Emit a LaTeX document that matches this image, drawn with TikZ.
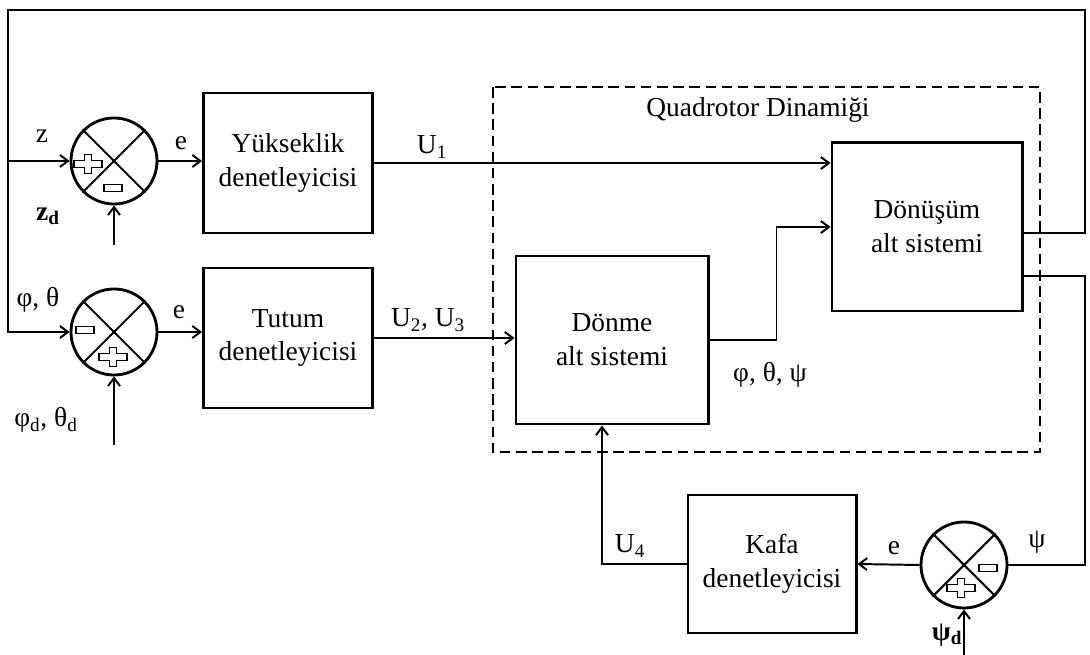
\documentclass[tikz,border=0pt]{standalone}
\usepackage{fontspec}
\setmainfont{Liberation Serif}
\usetikzlibrary{arrows.meta}

\begin{document}
\begin{tikzpicture}[x=0.025cm, y=-0.025cm, line width=1.4pt,
    every node/.style={font=\fontsize{19.5}{24}\selectfont},
    block/.style={draw, line width=2.1pt, align=center, inner sep=0pt},
    summer/.style={draw, circle, line width=2pt, minimum size=2.15cm, inner sep=0pt},
    arr/.style={-{Straight Barb[length=0.2cm,width=0.3cm]}},
    plussign/.pic={\draw[line width=1.2pt] (-14,-3.5) -- (-3.5,-3.5) -- (-3.5,-9.5) -- (3.5,-9.5) -- (3.5,-3.5) -- (14,-3.5) -- (14,3.5) -- (3.5,3.5) -- (3.5,9.5) -- (-3.5,9.5) -- (-3.5,3.5) -- (-14,3.5) -- cycle;},
    minussign/.pic={\draw[line width=1.2pt] (-9,-3.5) rectangle (9,3.5);}]
    \useasboundingbox (0,0) rectangle (1090,655);
    % summing junctions
    \node[summer] (sum1) at (114,161) {};
    \node[summer] (sum2) at (114,332) {};
    \node[summer] (sum3) at (964,565) {};
    \foreach \s in {sum1,sum2,sum3} {
        \draw[line width=1.5pt] (\s.north west) -- (\s.south east);
        \draw[line width=1.5pt] (\s.south west) -- (\s.north east);
    }
    \pic at ([shift={(-26,3)}]sum1.center) {plussign};
    \pic at ([shift={(-1,27)}]sum1.center) {minussign};
    \pic at ([shift={(-29,-2)}]sum2.center) {minussign};
    \pic at ([shift={(-1,25)}]sum2.center) {plussign};
    \pic at ([shift={(24,3)}]sum3.center) {minussign};
    \pic at ([shift={(-3,23)}]sum3.center) {plussign};
    % controller blocks
    \node[block, minimum width=4.225cm, minimum height=3.5cm] (yuk) at (288,163) {Yükseklik\\denetleyicisi};
    \node[block, minimum width=4.225cm, minimum height=3.5cm] (tutum) at (288,338) {Tutum\\denetleyicisi};
    \node[block, minimum width=4.2cm, minimum height=3.45cm] (kafa) at (772,564) {Kafa\\denetleyicisi};
    % quadrotor dynamics
    \draw[line width=1.7pt, dash pattern=on 7.5pt off 4pt] (493,87) rectangle (1040,452);
    \node (quadlbl) at (758,110) {Quadrotor Dinamiği};
    \node[block, minimum width=4.8cm, minimum height=4.2cm] (donme) at (612,340) {Dönme\\alt sistemi};
    \node[block, minimum width=4.75cm, minimum height=4.2cm] (donusum) at (927,227) {Dönüşüm\\alt sistemi};
    % corners of the feedback loops
    \coordinate (tl) at (8,10);
    \coordinate (tr) at (1085,10);
    \coordinate (br) at (1085,565);
    \coordinate (zd) at (114,245);
    \coordinate (pd) at (114,445);
    \coordinate (psd) at (964,655);
    % connectors
    \draw[arr] (sum1.east) -- (sum1.east -| yuk.west);
    \draw[arr] (sum2.east) -- (sum2.east -| tutum.west);
    \draw[arr] (yuk.east) -- (yuk.east -| donusum.west);
    \draw[arr] (tutum.east) -- (tutum.east -| donme.west);
    \draw[arr] (donme.east) -- ++(67,0) |- (donusum.west);
    \draw[arr] ([yshift=-0.15cm]donusum.east) -| (tr) -- (tl) |- (sum2.west);
    \draw[arr] (tl |- sum1.west) -- (sum1.west);
    \draw ([yshift=-1.225cm]donusum.east) -| (br) -- (sum3.east);
    \draw[arr] (sum3.west) -- (kafa.east);
    \draw[arr] (kafa.west) -| ([xshift=-0.25cm]donme.south);
    \draw[arr] (zd) -- (sum1.south);
    \draw[arr] (pd) -- (sum2.south);
    \draw[arr] (psd) -- (sum3.south);
    % signal labels
    \node (lz) at (42,136) {z};
    \node (le1) at (181,143) {e};
    \node (lzd) at (48,216) {\textbf{z}\textsubscript{\textbf{d}}};
    \node (lpt) at (38,300) {φ, θ};
    \node (le2) at (179,312) {e};
    \node (lptd) at (46,420) {φ\textsubscript{d}, θ\textsubscript{d}};
    \node (lu1) at (432,147) {U\textsubscript{1}};
    \node (lu23) at (428,320) {U\textsubscript{2}, U\textsubscript{3}};
    \node (lptp) at (770,375) {φ, θ, ψ};
    \node (lu4) at (630,546) {U\textsubscript{4}};
    \node (le3) at (894,548) {e};
    \node (lps) at (1037,542) {ψ};
    \node (lpsd) at (947,635) {\textbf{ψ}\textsubscript{\textbf{d}}};
\end{tikzpicture}
\end{document}
